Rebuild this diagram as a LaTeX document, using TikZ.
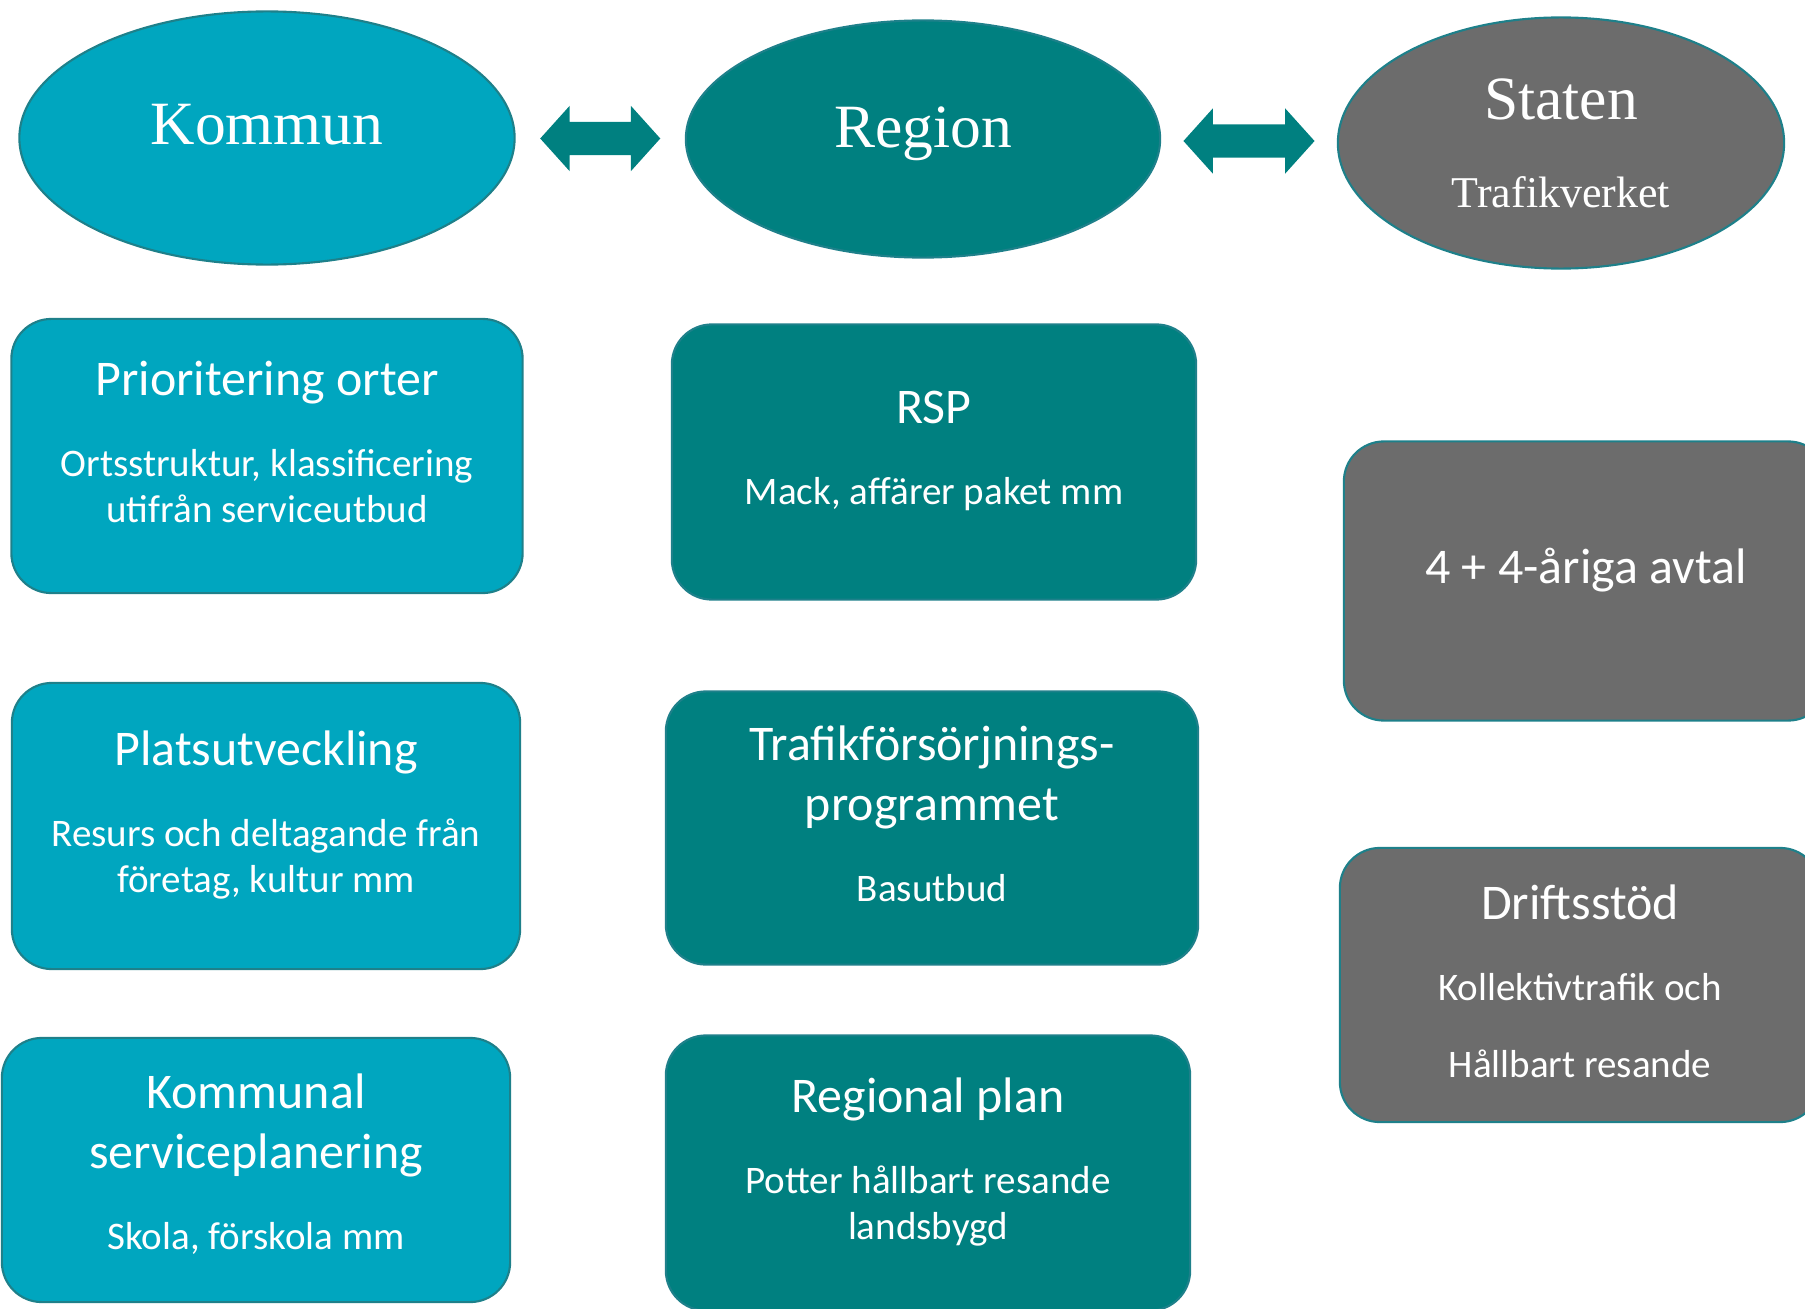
\documentclass[tikz,border=0pt]{standalone}
\usepackage{fontspec}
\setmainfont{Liberation Serif}
\newfontfamily\calfont{Carlito}
\usetikzlibrary{calc, shapes.geometric, shapes.arrows, positioning}
\definecolor{KommunCyan}{RGB}{0, 166, 191}
\definecolor{RegionTeal}{RGB}{0, 128, 128}
\definecolor{StatenGrey}{RGB}{108, 108, 108}
\definecolor{EdgeTeal}{RGB}{30, 128, 138}
\newcommand{\ttlsize}{\fontsize{14.2}{17}\selectfont}
\newcommand{\subsize}{\fontsize{11.1}{13}\selectfont}

\begin{document}
\begin{tikzpicture}[x=0.01cm, y=-0.01cm,
    level/.style={ellipse, draw=EdgeTeal, line width=0.6pt, inner sep=0pt, text=white, align=center, font=\fontsize{17.5}{21}\selectfont},
    pbox/.style={rectangle, rounded corners=0.4cm, draw=EdgeTeal, line width=0.6pt, inner sep=0pt, text depth=8pt, text=white, align=center, font=\calfont\subsize},
    twoway/.style={double arrow, fill=RegionTeal, inner xsep=0pt, inner ysep=0.16cm, minimum height=1.2cm, double arrow head extend=0.16cm, double arrow tip angle=96}]
    \useasboundingbox (0,0) rectangle (1805,1309);
    \clip (0,0) rectangle (1805,1309);

    % Nivåer
    \node[level, fill=KommunCyan, minimum width=4.95cm, minimum height=2.53cm] (kommun) at (267,138) {\raisebox{7.6pt}{Kommun}};
    \node[level, fill=RegionTeal, minimum width=4.74cm, minimum height=2.37cm] (region) at (923,139) {\raisebox{6.6pt}{Region}};
    \node[level, fill=StatenGrey, minimum width=4.46cm, minimum height=2.51cm, text depth=-4.3pt] (staten) at (1561,143) {Staten\\[4pt]{\fontsize{12.5}{15}\selectfont Trafikverket}};

    % Pilar
    \node[twoway] (kr) at ($(kommun.east)!0.5!(region.west)$) {};
    \node[twoway, minimum height=1.31cm] (rs) at ($(region.east)!0.5!(staten.west)$) {};

    % Kommun
    \node[pbox, fill=KommunCyan, minimum width=5.11cm, minimum height=2.74cm] (prio) at (267,456) {{\ttlsize Prioritering orter}\\[10pt] Ortsstruktur, klassificering\\ utifrån serviceutbud};
    \node[pbox, fill=KommunCyan, minimum width=5.08cm, minimum height=2.86cm] (plats) at (266,826) {{\ttlsize Platsutveckling}\\[10pt] Resurs och deltagande från\\ företag, kultur mm};
    \node[pbox, fill=KommunCyan, minimum width=5.08cm, minimum height=2.64cm, text depth=4.7pt] (kserv) at (256,1170) {{\ttlsize Kommunal}\\[4pt]{\ttlsize serviceplanering}\\[10pt] Skola, förskola mm};

    % Region
    \node[pbox, fill=RegionTeal, minimum width=5.24cm, minimum height=2.75cm] (rsp) at (934,462) {{\ttlsize RSP}\\[10pt] Mack, affärer paket mm};
    \node[pbox, fill=RegionTeal, minimum width=5.32cm, minimum height=2.73cm] (tfp) at (932,828) {{\ttlsize Trafikförsörjnings-}\\[4pt]{\ttlsize programmet}\\[10pt] Basutbud};
    \node[pbox, fill=RegionTeal, minimum width=5.24cm, minimum height=2.75cm] (rplan) at (928,1173) {{\ttlsize Regional plan}\\[10pt] Potter hållbart resande\\ landsbygd};

    % Staten
    \node[pbox, fill=StatenGrey, minimum width=4.84cm, minimum height=2.79cm, text depth=8.5pt] (avtal) at (1586,581) {\ttlsize 4 + 4-åriga avtal};
    \node[pbox, fill=StatenGrey, minimum width=4.80cm, minimum height=2.74cm, text depth=2pt] (drift) at (1580,985) {{\ttlsize Driftsstöd}\\[10pt] Kollektivtrafik och\\[9pt] Hållbart resande};
\end{tikzpicture}
\end{document}
